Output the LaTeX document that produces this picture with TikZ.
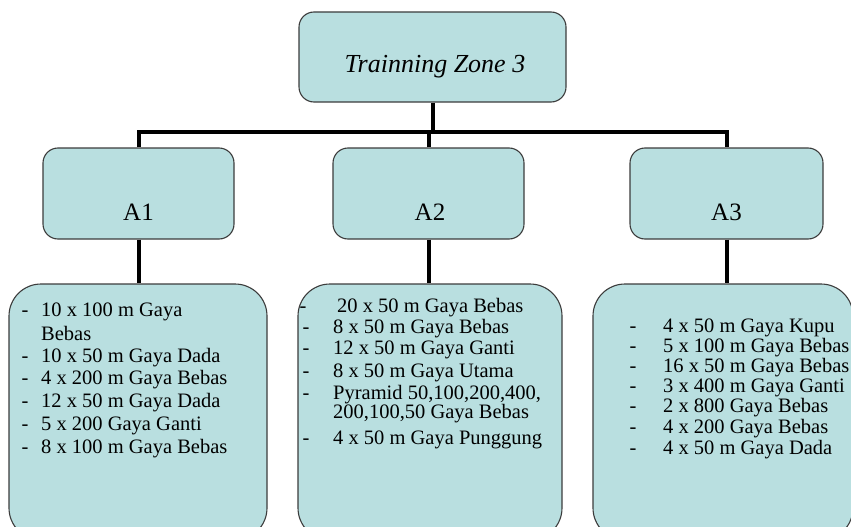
\documentclass[tikz,border=0pt]{standalone}
\usepackage{fontspec}
\setmainfont{Liberation Serif}
\definecolor{boxfill}{RGB}{185,223,224}
\definecolor{boxline}{RGB}{60,60,60}
\begin{document}
\begin{tikzpicture}[x=1pt,y=-1pt,
  box/.style={draw=boxline, line width=1.1pt, fill=boxfill, rounded corners=15pt, inner sep=0pt},
  listbox/.style={draw=boxline, line width=1.1pt, fill=boxfill, rounded corners=32pt, inner sep=0pt},
  conn/.style={line width=4pt, black},
  itm/.style={font=\fontsize{20.5}{24}\selectfont, anchor=base west, inner sep=0pt},
  dsh/.style={font=\fontsize{20.5}{24}\selectfont, anchor=base, inner sep=0pt},
  lbl/.style={font=\fontsize{25}{30}\selectfont, anchor=base, inner sep=0pt}]
\useasboundingbox (0,0) rectangle (851,527);
% boxes
\node[box, minimum width=267pt, minimum height=90pt] (T) at (432.5,57) {};
\node[box, minimum width=191pt, minimum height=91pt] (A1) at (138.5,193.5) {};
\node[box, minimum width=191pt, minimum height=91pt] (A2) at (428.5,193.5) {};
\node[box, minimum width=193pt, minimum height=91pt] (A3) at (726.5,193.5) {};
\node[listbox, minimum width=258pt, minimum height=256pt] (L1) at (138,412) {};
\node[listbox, minimum width=264pt, minimum height=256pt] (L2) at (430,412) {};
\node[listbox, minimum width=260pt, minimum height=256pt] (L3) at (723,412) {};
% connectors
\coordinate (hub) at (T.south |- 0,132);
\draw[conn] (T.south) -- (hub);
\draw[conn] (A1.north) -- (A1.north |- hub) -- (A3.north |- hub) -- (A3.north);
\draw[conn] (A2.north) -- (A2.north |- hub);
\draw[conn] (A1.south) -- (A1.south |- L1.north);
\draw[conn] (A2.south) -- (A2.south |- L2.north);
\draw[conn] (A3.south) -- (A3.south |- L3.north);
% labels
\node[lbl, font=\fontsize{26}{30}\selectfont\itshape] (Tt) at (435,72) {Trainning Zone 3};
\node[lbl] (A1t) at (138.5,220) {A1};
\node[lbl] (A2t) at (430,220) {A2};
\node[lbl] (A3t) at (726.5,220) {A3};
% list 1
\foreach \y/\t [count=\i] in {316/10 x 100 m Gaya, 362/10 x 50 m Gaya Dada, 384/4 x 200 m Gaya Bebas, 407/12 x 50 m Gaya Dada, 430/5 x 200 Gaya Ganti, 453/8 x 100 m Gaya Bebas}{
  \node[dsh] (d1-\i) at (25,\y) {-};
  \node[itm] (t1-\i) at (41,\y) {\t};
}
\node[itm] (t1-b) at (41,340) {Bebas};
% list 2
\node[dsh] (d2-1) at (303,312) {-};
\node[itm] (t2-1) at (337,312) {20 x 50 m Gaya Bebas};
\foreach \y/\t [count=\i from 2] in {333/8 x 50 m Gaya Bebas, 354/12 x 50 m Gaya Ganti, 377/8 x 50 m Gaya Utama, 399/{Pyramid 50,100,200,400,}, 444/4 x 50 m Gaya Punggung}{
  \node[dsh] (d2-\i) at (306,\y) {-};
  \node[itm] (t2-\i) at (333,\y) {\t};
}
\node[itm] (t2-b) at (333,418) {200,100,50 Gaya Bebas};
% list 3
\foreach \y/\t [count=\i] in {332/4 x 50 m Gaya Kupu, 352/5 x 100 m Gaya Bebas, 372/16 x 50 m Gaya Bebas, 392/3 x 400 m Gaya Ganti, 412/2 x 800 Gaya Bebas, 433/4 x 200 Gaya Bebas, 454/4 x 50 m Gaya Dada}{
  \node[dsh] (d3-\i) at (633,\y) {-};
  \node[itm] (t3-\i) at (663,\y) {\t};
}
\end{tikzpicture}
\end{document}
